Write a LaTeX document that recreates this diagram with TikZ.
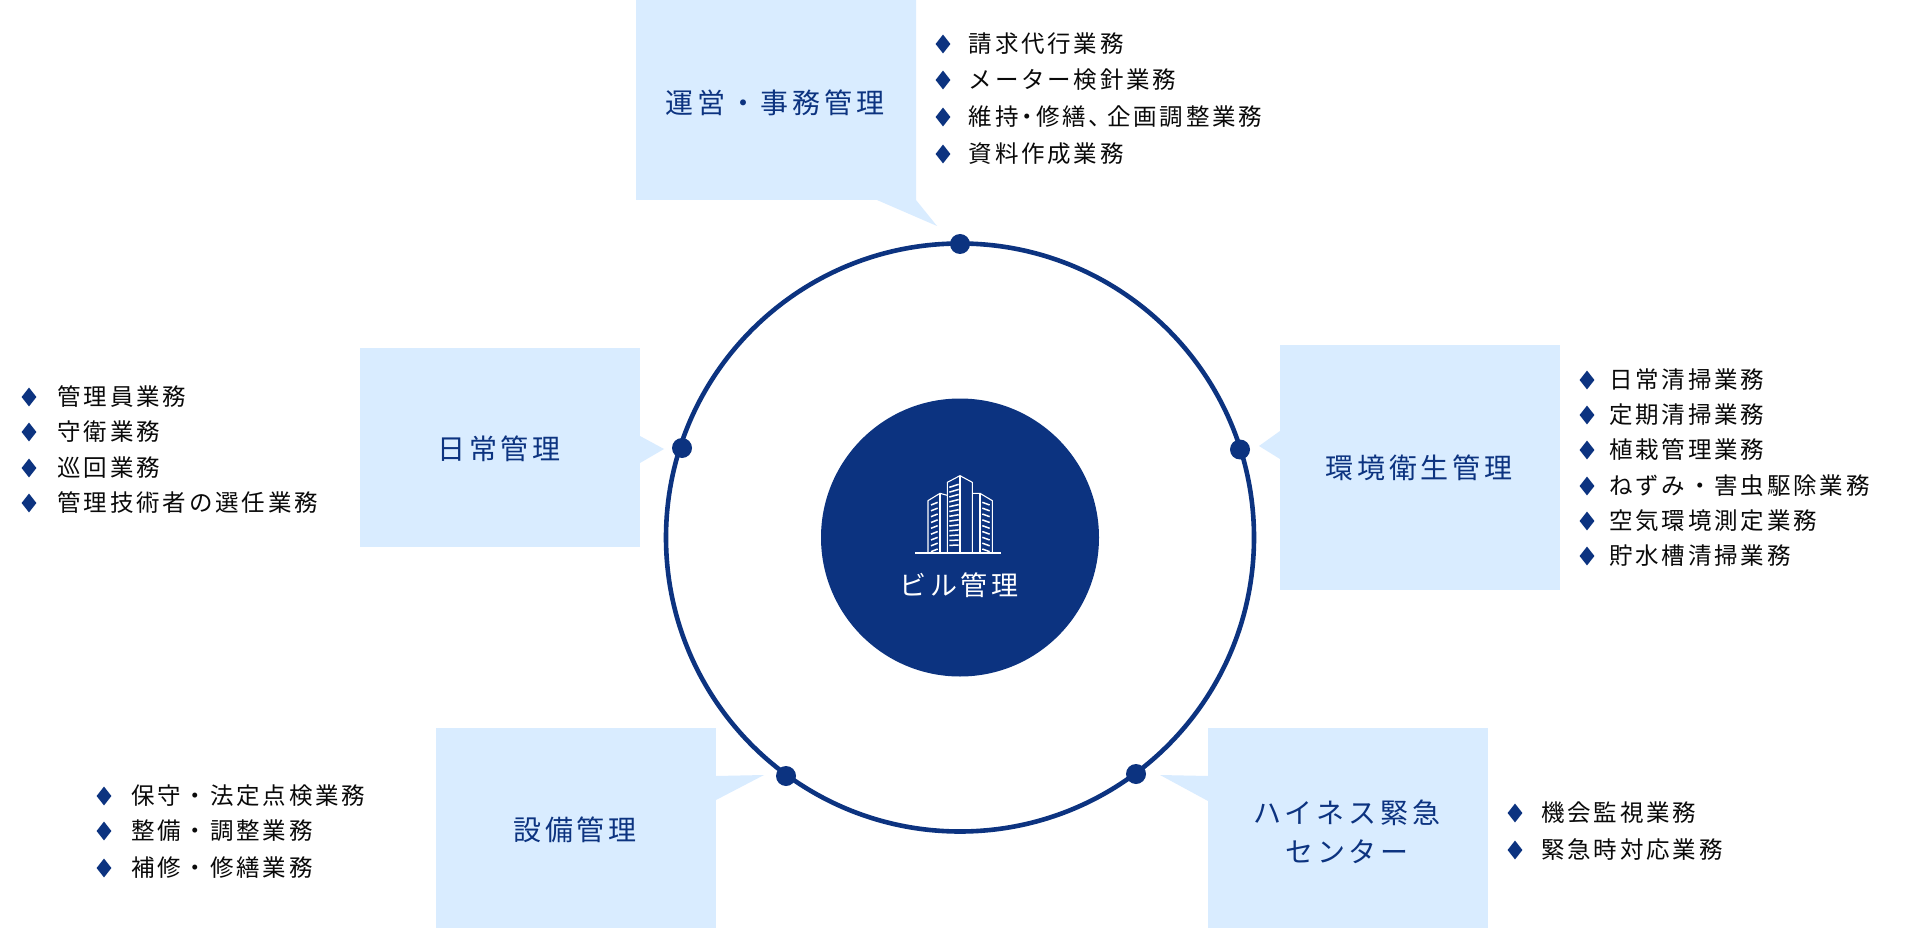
\documentclass[tikz,border=0pt]{standalone}
\usepackage{fontspec}
\setmainfont{Noto Sans CJK JP}
\newfontfamily\labelfont[LetterSpace=14]{Noto Sans CJK JP}
\newfontfamily\listfont[LetterSpace=12]{Noto Sans CJK JP}
\usetikzlibrary{shapes.geometric}
\definecolor{navy}{HTML}{0C3380}
\definecolor{pale}{HTML}{D9ECFF}
\definecolor{ink}{HTML}{0A0A0A}
\tikzset{
  tail/.style={fill=pale,draw=none},
  boxlabel/.style={text=navy,inner sep=0pt,align=center,font=\labelfont\fontsize{28}{39}\selectfont},
  itemtext/.style={text=ink,inner sep=0pt,anchor=west,font=\listfont\fontsize{23.5}{30}\selectfont},
  bullet/.style={diamond,fill=navy,inner sep=0pt,minimum width=15pt,minimum height=19pt,draw=none},
  ringdot/.style={circle,fill=navy,inner sep=0pt,minimum size=20pt,draw=none},
  iconline/.style={draw=white,line width=1.1pt,line join=round},
  iconwin/.style={draw=white,line width=1.5pt}
}
\newcommand{\listitem}[5]{%
  \node[bullet] (b#1) at (#2,#4) {};
  \node[itemtext] (t#1) at (#3,#4) {#5};
}
\begin{document}
\begin{tikzpicture}[x=1pt,y=-1pt]
\useasboundingbox (0,0) rectangle (1920,928);
\fill[white] (0,0) rectangle (1920,928);
% callout boxes
\fill[tail] (636,0) -- (916,0) -- (916,200) -- (937,226) -- (877,200) -- (636,200) -- cycle;
\fill[tail] (1280,345) rectangle (1560,590);
\fill[tail] (1280,431) -- (1259,446) -- (1280,459) -- cycle;
\fill[tail] (360,348) rectangle (640,547);
\fill[tail] (640,436) -- (664,449) -- (640,463) -- cycle;
\fill[tail] (436,728) rectangle (716,928);
\fill[tail] (716,776) -- (764,775) -- (716,800) -- cycle;
\fill[tail] (1208,728) rectangle (1488,928);
\fill[tail] (1208,776) -- (1160,775) -- (1208,801) -- cycle;
% ring
\node[circle,draw=navy,line width=4.6pt,minimum size=588pt,inner sep=0pt] (ring) at (960,537.5) {};
\node[circle,fill=navy,minimum size=278pt,inner sep=0pt] (hub) at (960,537.5) {};
\node[ringdot] (d1) at (960,244) {};
\node[ringdot] (d2) at (1240,449.5) {};
\node[ringdot] (d3) at (1136,774) {};
\node[ringdot] (d4) at (786,776) {};
\node[ringdot] (d5) at (682,448) {};
% icon
\begin{scope}[shift={(860,450)},x=0.3333pt,y=-0.3333pt]
  \draw[white,line width=1.4pt] (165,309) -- (422,309);
  \draw[iconline] (204,309) -- (204,152) -- (240,130) -- (262,136);
  \draw[iconline] (240,130) -- (240,309);
  \draw[iconline] (262,309) -- (262,97) -- (300,77) -- (337,97) -- (337,309);
  \draw[iconline] (300,77) -- (300,309);
  \draw[iconline] (337,130) -- (360,130) -- (397,152) -- (397,309);
  \draw[iconline] (360,130) -- (360,309);
  \foreach \y in {0,1,...,8}{
    \draw[iconwin] (213,{165+\y*17.5}) -- (233,{157+\y*17.5});
    \draw[iconwin] (367,{157+\y*17.5}) -- (389,{165+\y*17.5});
  }
  \foreach \y in {0,1,...,12}{
    \draw[iconwin] (268,{112+\y*14.5}) -- (296,{103+\y*15.2});
  }
\end{scope}
\node[text=white,inner sep=0pt,font=\labelfont\fontsize{27}{30}\selectfont] (hubtext) at (959,585) {ビル管理};
% labels
\node[boxlabel] (n1) at (775,102.5) {運営・事務管理};
\node[boxlabel] (n2) at (1419,468) {環境衛生管理};
\node[boxlabel] (n3) at (1347,832) {ハイネス緊急\\センター};
\node[boxlabel] (n4) at (575,830) {設備管理};
\node[boxlabel] (n5) at (499,449) {日常管理};
% lists
\listitem{a1}{943}{968.5}{44}{請求代行業務}
\listitem{a2}{943}{968.5}{80}{メーター検針業務}
\listitem{a3}{943}{968.5}{117}{維持\kern-3pt・\kern-3pt修繕、\kern-5pt企画調整業務}
\listitem{a4}{943}{968.5}{154}{資料作成業務}
\listitem{b1}{1587}{1609}{380}{日常清掃業務}
\listitem{b2}{1587}{1609}{415}{定期清掃業務}
\listitem{b3}{1587}{1609}{450}{植栽管理業務}
\listitem{b4}{1587}{1609}{486}{ねずみ・害虫駆除業務}
\listitem{b5}{1587}{1609}{521}{空気環境測定業務}
\listitem{b6}{1587}{1609}{556}{貯水槽清掃業務}
\listitem{c1}{1515}{1541}{813}{機会監視業務}
\listitem{c2}{1515}{1541}{850}{緊急時対応業務}
\listitem{d1}{104}{131}{796}{保守・法定点検業務}
\listitem{d2}{104}{131}{831}{整備・調整業務}
\listitem{d3}{104}{131}{868}{補修・修繕業務}
\listitem{e1}{29}{57.5}{397}{管理員業務}
\listitem{e2}{29}{57.5}{432}{守衛業務}
\listitem{e3}{29}{57.5}{468}{巡回業務}
\listitem{e4}{29}{57.5}{503}{管理技術者の選任業務}
\end{tikzpicture}
\end{document}
